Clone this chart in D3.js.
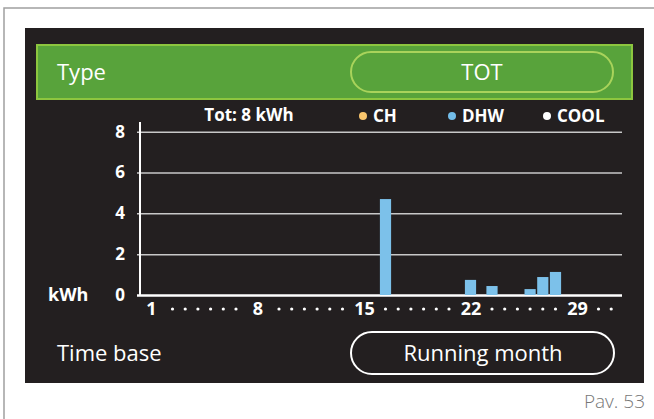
<!DOCTYPE html>
<html>
<head>
<meta charset="utf-8">
<script src="https://cdn.jsdelivr.net/npm/d3@7"></script>
<style>
  body { margin: 0; background: #fff; }
  svg { display: block; }
  text { font-family: "Open Sans", sans-serif; }
</style>
</head>
<body>
<script>
"use strict";
(function(){
    // values
    const days = d3.range(1, 32)
    const xTickDays = [1, 8, 15, 22, 29]
    const yTicks = [0, 2, 4, 6, 8]
    const barDays = [16, 22, 23, 26, 27, 28]
    const dhwKwh = [4.7, 0.74, 0.44, 0.29, 0.88, 1.13]
    const legendLabels = ["CH", "DHW", "COOL"]
    const legendColors = ["#f8c56c", "#72bde9", "#ffffff"]

    const measurements = {
        width: 654,
        height: 419
    }

    let svg = d3.select("body").append("svg")
        .attr("width", measurements.width)
        .attr("height", measurements.height)

    // outer frame, only the top and left are inside the picture
    svg.append("rect")
        .attr("x", 4).attr("y", 8)
        .attr("width", 700).attr("height", 500)
        .attr("fill", "none")
        .attr("stroke", "#a0a0a0")
        .attr("stroke-width", 1.5)

    // display panel
    svg.append("rect")
        .attr("x", 25).attr("y", 28)
        .attr("width", 619).attr("height", 355)
        .attr("fill", "#231f20")

    // Type row
    svg.append("rect")
        .attr("x", 37).attr("y", 45)
        .attr("width", 595).attr("height", 54)
        .attr("fill", "#58a33b")
        .attr("stroke", "#8dc63f")
        .attr("stroke-width", 2)
    svg.append("text")
        .attr("x", 57).attr("y", 80)
        .attr("fill", "#fff")
        .attr("font-size", 22)
        .text("Type")
    svg.append("rect")
        .attr("x", 351).attr("y", 52)
        .attr("width", 262).attr("height", 40)
        .attr("rx", 20)
        .attr("fill", "none")
        .attr("stroke", "#a9d35b")
        .attr("stroke-width", 2)
    svg.append("text")
        .attr("x", 482).attr("y", 80)
        .attr("text-anchor", "middle")
        .attr("fill", "#fff")
        .attr("font-size", 22)
        .text("TOT")

    // Time base row
    svg.append("text")
        .attr("x", 57).attr("y", 361)
        .attr("fill", "#fff")
        .attr("font-size", 22)
        .text("Time base")
    svg.append("rect")
        .attr("x", 351).attr("y", 332)
        .attr("width", 263).attr("height", 42)
        .attr("rx", 21)
        .attr("fill", "none")
        .attr("stroke", "#fff")
        .attr("stroke-width", 2)
    svg.append("text")
        .attr("x", 483).attr("y", 361)
        .attr("text-anchor", "middle")
        .attr("fill", "#fff")
        .attr("font-size", 22)
        .text("Running month")

    svg.append("text")
        .attr("x", 645).attr("y", 408)
        .attr("text-anchor", "end")
        .attr("fill", "#777")
        .attr("font-size", 19)
        .attr("font-weight", 300)
        .text("Pav. 53")

    // x scale: labelled days are wider than the dot days
    const tickX = d3.scaleLinear().domain([1, 29]).range([151, 577])
    const pitch = 12.7
    function dayPos(d) {
        const a = 1 + 7 * Math.floor((d - 1) / 7)
        const k = d - a
        if (k === 0) return tickX(a)
        const mid = (tickX(a) + tickX(a + 7)) / 2
        return mid + (k - 3.5) * pitch
    }
    let x = d3.scaleLinear().domain(days).range(days.map(dayPos))
    let y = d3.scaleLinear().domain([0, 8]).range([295, 131.7])

    const left = 140, right = 622

    // grid + y labels
    let yAxis = d3.axisLeft(y)
        .tickValues(yTicks)
        .tickSize(-(right - left + 3))
        .tickPadding(12)
    let gy = svg.append("g")
        .attr("transform", "translate(" + (left - 3) + ",0)")
        .call(yAxis)
    gy.select(".domain").remove()
    gy.selectAll(".tick line")
        .attr("stroke", (d) => d === 0 ? "#fff" : "#c8c8c8")
        .attr("stroke-width", (d) => d === 0 ? 2.5 : 1.5)
    gy.selectAll(".tick text")
        .attr("fill", "#fff")
        .attr("font-size", 17)
        .attr("font-weight", 700)
        .attr("font-family", "Open Sans, sans-serif")

    svg.append("line")
        .attr("x1", left).attr("x2", left)
        .attr("y1", 122).attr("y2", y(0) + 1)
        .attr("stroke", "#fff")
        .attr("stroke-width", 2)

    svg.append("text")
        .attr("x", 48).attr("y", y(0) + 6)
        .attr("fill", "#fff")
        .attr("font-size", 18)
        .attr("font-weight", 700)
        .text("kWh")

    // bars
    svg.selectAll(".bar")
        .data(barDays)
        .enter()
        .append("rect")
        .attr("class", "bar")
        .attr("x", (d) => x(d) - 5.6)
        .attr("width", 11.2)
        .attr("y", (d, i) => y(dhwKwh[i]))
        .attr("height", (d, i) => y(0) - y(dhwKwh[i]))
        .attr("fill", "#7cc1ea")

    // x labels and day dots
    let xAxis = d3.axisBottom(x)
        .tickValues(xTickDays)
        .tickFormat(d3.format("d"))
        .tickSize(0)
        .tickPadding(6)
    let gx = svg.append("g")
        .attr("transform", "translate(0," + (y(0) + 1) + ")")
        .call(xAxis)
    gx.select(".domain").remove()
    gx.selectAll(".tick text")
        .attr("fill", "#fff")
        .attr("font-size", 18)
        .attr("font-weight", 700)
        .attr("font-family", "Open Sans, sans-serif")

    svg.selectAll(".daydot")
        .data(days.filter((d) => xTickDays.indexOf(d) < 0))
        .enter()
        .append("circle")
        .attr("class", "daydot")
        .attr("cx", (d) => x(d))
        .attr("cy", 309)
        .attr("r", 1.6)
        .attr("fill", "#fff")

    // header: total and legend
    svg.append("text")
        .attr("x", 249).attr("y", 121)
        .attr("text-anchor", "middle")
        .attr("fill", "#fff")
        .attr("font-size", 17)
        .attr("font-weight", 700)
        .text("Tot: " + Math.round(d3.sum(dhwKwh)) + " kWh")

    const legendX = [363, 452, 547]
    let legend = svg.selectAll(".legend")
        .data(legendLabels)
        .enter()
        .append("g")
        .attr("class", "legend")
        .attr("transform", (d, i) => "translate(" + legendX[i] + ",116)")
    legend.append("circle")
        .attr("r", 4)
        .attr("fill", (d, i) => legendColors[i])
    legend.append("text")
        .attr("x", 10).attr("y", 6)
        .attr("fill", "#fff")
        .attr("font-size", 17)
        .attr("font-weight", 700)
        .text((d) => d)
})()
</script>
</body>
</html>
